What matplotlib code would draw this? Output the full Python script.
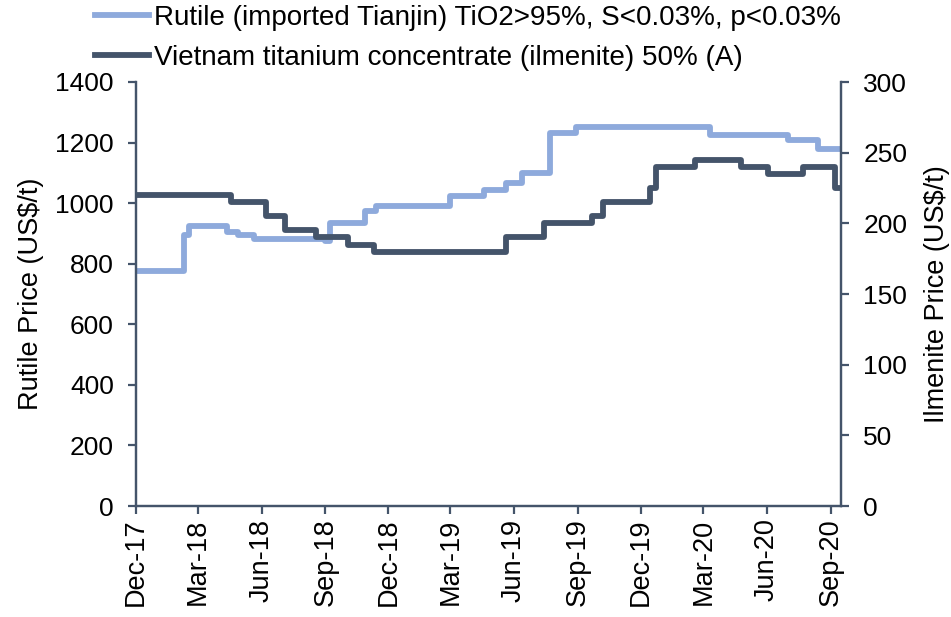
import pandas as pd
import matplotlib
matplotlib.use("Agg")
import matplotlib.pyplot as plt

plt.rcParams['font.family'] = ['Liberation Sans', 'DejaVu Sans']

# Rutile price steps (US$/t), left axis
rutile_dates = ['2017-12-01', '2018-02-09', '2018-02-16', '2018-04-12', '2018-04-27',
                '2018-05-21', '2018-09-01', '2018-09-07', '2018-10-29', '2018-11-13',
                '2019-03-01', '2019-04-19', '2019-05-20', '2019-06-13', '2019-07-23',
                '2019-08-29', '2020-03-11', '2020-07-02', '2020-08-14', '2020-09-15']
rutile_vals = [775, 895, 925, 905, 895,
               880, 875, 935, 975, 990,
               1025, 1045, 1065, 1100, 1230,
               1250, 1225, 1210, 1180, 1180]

# Ilmenite price steps (US$/t), right axis
ilm_dates = ['2017-12-01', '2018-04-17', '2018-06-07', '2018-07-04', '2018-08-19',
             '2018-10-04', '2018-11-10', '2019-05-20', '2019-07-14', '2019-09-22',
             '2019-10-08', '2019-12-14', '2019-12-24', '2020-02-18', '2020-04-24',
             '2020-06-03', '2020-07-23', '2020-09-08', '2020-09-15']
ilm_vals = [220, 215, 205, 195, 190,
            185, 180, 190, 200, 205,
            215, 225, 240, 245, 240,
            235, 240, 225, 225]

tick_labels = ['Dec-17', 'Mar-18', 'Jun-18', 'Sep-18', 'Dec-18', 'Mar-19',
               'Jun-19', 'Sep-19', 'Dec-19', 'Mar-20', 'Jun-20', 'Sep-20']

light = '#8eaadc'
dark = '#44546a'
axcol = '#44546a'
fs = 19

fig = plt.figure(figsize=(9.51, 6.17), dpi=100)
ax = fig.add_axes([136/951, 1-506/617, (841-136)/951, (506-82)/617])
ax2 = ax.twinx()

l1, = ax.step(pd.to_datetime(rutile_dates), rutile_vals, where='post', color=light, lw=4.2)
l2, = ax2.step(pd.to_datetime(ilm_dates), ilm_vals, where='post', color=dark, lw=4.2)

ax.set_xlim(pd.Timestamp('2017-12-01'), pd.Timestamp('2020-09-16'))
ax.set_ylim(0, 1400)
ax2.set_ylim(0, 300)
ax.set_yticks(range(0, 1401, 200))
ax2.set_yticks(range(0, 301, 50))

ticks = pd.date_range('2017-12-01', periods=len(tick_labels), freq='3MS')
ax.set_xticks(ticks)
ax.set_xticklabels(tick_labels, rotation=90)

for a in (ax, ax2):
    for s in a.spines.values():
        s.set_color(axcol)
        s.set_linewidth(1.6)
    a.spines['top'].set_visible(False)
    a.tick_params(direction='out', length=6, width=1.6, color=axcol,
                  labelsize=fs, labelcolor='black', pad=10)
ax.tick_params(axis='x', pad=3, labelsize=19.5)

ax.set_ylabel('Rutile Price (US$/t)', fontsize=19.5, labelpad=8)
ax2.set_ylabel('Ilmenite Price (US$/t)', fontsize=19.5, labelpad=12)

fig.legend([l1, l2],
           ['Rutile (imported Tianjin) TiO2>95%, S<0.03%, p<0.03%',
            'Vietnam titanium concentrate (ilmenite) 50% (A)'],
           loc='upper left', bbox_to_anchor=(95/951, 1-5/617), frameon=False,
           fontsize=20, handlelength=1.95, handletextpad=0.18, borderpad=0,
           borderaxespad=0, labelspacing=0.5)

fig.savefig('out.png', dpi=100)
